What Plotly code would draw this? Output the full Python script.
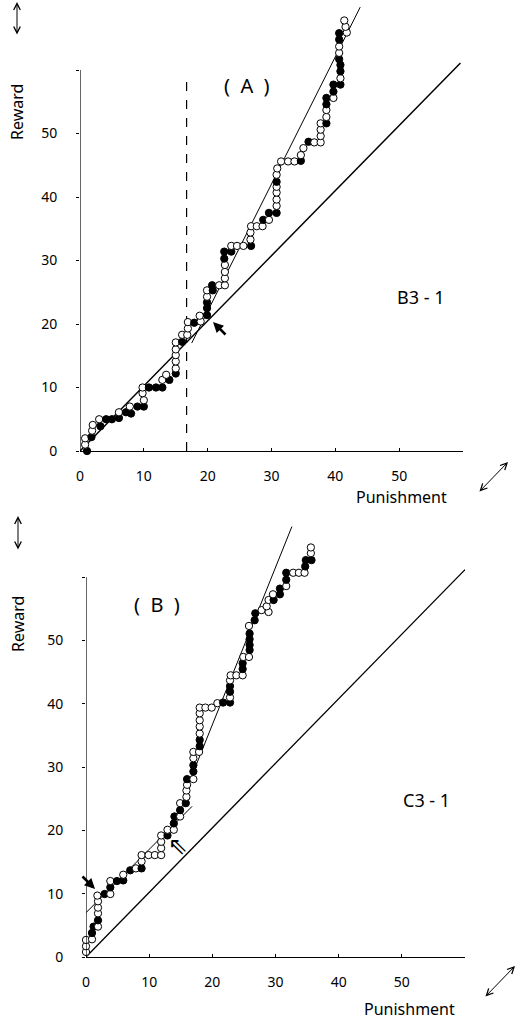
import plotly.graph_objects as go

# ---------------- data ----------------
# Panel A (B3-1): cumulative punishment / reward, filled=1 black circle, 0 open circle
a_punish = [1.1,0.8,0.8,1.8,1.9,2,3.2,3,4.1,5,6.1,6.1,7.2,8,7.8,9,10,10,9.8,9.8,10.8,11.9,12.9,12.9,14,13.5,15,15,15,15,15,15,16,16,16.8,16.9,16.9,17.9,18.9,18.75,19.9,19.9,19.9,19.9,19.9,20.8,20.7,21.8,22.7,22.7,22.7,22.7,22.6,22.6,23.7,23.7,24.6,25.6,26.8,26.7,26.7,26.8,27.7,28.6,28.7,29.6,29.6,30.8,30.8,30.8,30.8,30.8,30.8,30.8,30.9,31.5,32.6,33.6,34.6,34.6,35,35.8,36.7,37.7,37.7,37.7,37.7,38.6,38.6,38.6,38.6,38.6,39.7,39.7,39.7,40.8,40.8,40.8,40.8,40.6,40.6,40.6,40.6,40.6,41.8,41.6,41.4]
a_reward = [0,1,2,2.2,3.2,4.1,3.9,5,5,5,5.2,6.1,6.1,5.9,7,7,7,8,9.1,10,10,10,10,11.2,11.2,12,12.2,13,14.1,15.1,16,17.1,17.2,18.3,18.3,19.3,20.3,20.2,20.4,21.3,21.4,22.5,23.4,24.3,25.3,25.3,26.1,26.1,26.1,27.2,28.2,29.3,30.3,31.4,31.4,32.3,32.3,32.3,32.3,33.3,34.4,35.4,35.4,35.4,36.4,36.4,37.5,37.5,38.6,39.6,40.7,41.6,42.4,43.5,44.5,45.6,45.6,45.6,45.7,46.6,47.7,48.7,48.6,48.6,49.6,50.6,51.6,51.6,52.6,53.7,54.6,55.6,55.6,56.6,57.7,57.7,58.7,59.8,60.8,61.7,62.7,63.7,64.8,65.8,65.9,66.8,67.8]
a_filled = [1,0,0,1,0,0,1,0,1,1,1,0,1,1,0,1,1,0,0,0,1,1,1,0,1,0,1,0,0,0,0,0,1,0,0,0,0,1,0,0,1,1,1,0,0,1,1,0,0,0,0,0,1,1,1,0,0,0,1,0,0,0,0,0,1,0,1,1,0,0,0,0,1,0,0,0,0,0,1,0,0,1,0,0,0,0,0,1,0,0,1,1,0,1,1,1,0,1,1,1,0,0,1,1,0,0,0]

# Panel B (C3-1)
b_punish = [0,0,0,0.95,0.95,1.2,1.9,1.9,1.9,1.9,1.9,1.8,2.95,3.85,3.85,3.85,4.9,5.9,5.9,7,7.9,8.8,8.8,8.8,9.9,10.9,11.9,11.9,11.9,11.9,12.9,12.9,13.9,13.9,14,14.9,14.9,14.9,15.8,15.9,15.9,16,16,17,17,17,17,17,17.9,18,18,18,18,18,18,18,18.9,19.9,20.8,21.7,22.8,22.8,22.8,22.8,22.8,22.9,23.8,24.8,24.8,24.8,24.9,25.8,25.9,25.9,25.9,25.9,25.8,26.7,26.8,27.8,28.9,28.6,28.9,29.7,29.6,30.7,30.7,31.7,31.7,31.7,32.8,33.7,34.6,34.7,34.8,35.7,35.6,35.6]
b_reward = [0.8,1.7,2.7,2.8,3.8,4.8,4.8,5.8,6.9,7.8,8.8,9.7,9.95,9.95,11,12,12,12.1,13,13.7,14,14,15.1,16.1,16.1,16.1,16.1,17.2,18.2,19.2,19.2,20.1,20.1,21.1,22.2,22.2,23.2,24.3,24.3,25.3,26.3,27.2,28.1,28.1,29.3,30.3,31.4,32.4,32.4,33.3,34.3,35.3,36.4,37.4,38.5,39.4,39.4,39.4,40.1,40.2,40.2,41,41.9,42.8,43.7,44.5,44.5,44.5,45.5,46.4,47.4,47.4,48.5,49.3,50.2,51.1,52.3,53.2,54.3,54.8,54.5,55.4,56.4,56.4,57.3,57.3,58.2,58.6,59.6,60.7,60.7,60.7,60.7,61.7,62.7,62.7,63.8,64.7]
b_filled = [0,0,0,0,1,1,0,1,0,0,0,0,1,0,1,0,1,1,0,1,0,1,0,0,0,0,0,0,0,0,1,0,0,1,1,0,1,0,1,0,0,0,1,0,1,1,0,0,0,1,1,0,0,0,0,0,0,0,0,1,1,0,1,1,0,0,0,0,1,1,0,0,1,1,1,1,0,1,1,0,0,0,0,1,0,1,1,0,1,1,0,0,0,1,1,1,0,0]

# fitted lines
a_diag_x, a_diag_y = [0, 59.6], [0, 61.1]
a_steep_x, a_steep_y = [17.5, 43.9], [17.0, 69.9]
a_dash_x, a_dash_y = [16.7, 16.7], [0, 59.5]
b_diag_x, b_diag_y = [0, 60], [0, 61.2]
b_low_x, b_low_y = [0, 16.8], [7.0, 23.8]
b_steep_x, b_steep_y = [16.3, 32.6], [27.5, 68.0]

tick_vals = [0, 10, 20, 30, 40, 50, 60]
tick_text = ["0", "10", "20", "30", "40", "50", ""]
AXIS_MAX = 60
Y_VIEW_MAX = 70

# ---------------- figure ----------------
W, H = 527, 1021
L, R, T, B = 80, 62, 5, 64
FONT = "Noto Sans"

def pxx(px):
    return (px - L) / (W - L - R)

def pxy(py):
    return (H - B - py) / (H - T - B)

fig = go.Figure()

def add_line(x, y, xa, ya, width=1.0, dash="solid"):
    fig.add_trace(go.Scatter(x=x, y=y, mode="lines", xaxis=xa, yaxis=ya,
                             line=dict(color="black", width=width, dash=dash),
                             hoverinfo="skip", showlegend=False, cliponaxis=False))

add_line(a_diag_x, a_diag_y, "x", "y", 1.5)
add_line(a_steep_x, a_steep_y, "x", "y", 1.0)
add_line(a_dash_x, a_dash_y, "x", "y", 1.2, "dash")
add_line(b_diag_x, b_diag_y, "x2", "y2", 1.3)
add_line(b_low_x, b_low_y, "x2", "y2", 1.0)
add_line(b_steep_x, b_steep_y, "x2", "y2", 1.0)

def add_pts(x, y, f, xa, ya):
    fig.add_trace(go.Scatter(
        x=x, y=y, mode="markers", xaxis=xa, yaxis=ya, showlegend=False, cliponaxis=False,
        marker=dict(size=7.3, color=["black" if v else "white" for v in f],
                    line=dict(color="black", width=1)),
    ))

add_pts(a_punish, a_reward, a_filled, "x", "y")
add_pts(b_punish, b_reward, b_filled, "x2", "y2")

xax = dict(range=[0, AXIS_MAX], showline=True, linecolor="black", linewidth=1.2, showgrid=False,
           zeroline=False, ticks="inside", ticklen=3, tickcolor="black",
           tickvals=tick_vals, ticktext=tick_text, ticklabelstandoff=12,
           tickfont=dict(family=FONT, size=14, color="black"))
yax = dict(range=[0, Y_VIEW_MAX], showline=False, showgrid=False,
           zeroline=False, ticks="outside", ticklen=3, tickcolor="black",
           tickvals=tick_vals, ticktext=tick_text, ticklabelstandoff=16,
           tickfont=dict(family=FONT, size=14, color="black"))

fig.update_layout(
    width=W, height=H, margin=dict(l=L, r=R, t=T, b=B),
    paper_bgcolor="white", plot_bgcolor="white",
    xaxis=dict(domain=[0, 383 / 385], anchor="y", **xax),
    yaxis=dict(domain=[pxy(451), pxy(451 - Y_VIEW_MAX * 6.35)], anchor="x", **yax),
    xaxis2=dict(domain=[6 / 385, 1], anchor="y2", **xax),
    yaxis2=dict(domain=[0, pxy(957 - Y_VIEW_MAX * 6.33)], anchor="x2", **yax),
)

# y-axis lines only up to 60
for xr, yr in (("x", "y"), ("x2", "y2")):
    fig.add_shape(type="line", xref=xr, yref=yr, x0=0, x1=0, y0=0, y1=AXIS_MAX,
                  line=dict(color="black", width=1.2))

ann = []

def text(px, py, s, size, angle=0, family=FONT):
    ann.append(dict(x=pxx(px), y=pxy(py), xref="paper", yref="paper", text=s, showarrow=False,
                    font=dict(family=family, size=size, color="black"), textangle=angle,
                    xanchor="center", yanchor="middle"))

def arrow(hx, hy, tx, ty, head=2, width=1.0, size=1.0, both=False):
    ann.append(dict(x=pxx(hx), y=pxy(hy), xref="paper", yref="paper", text="",
                    showarrow=True, ax=tx - hx, ay=ty - hy, arrowhead=head,
                    arrowwidth=width, arrowsize=size, arrowcolor="black",
                    arrowside="end+start" if both else "end",
                    startarrowhead=head, startarrowsize=size))

# Panel A labels
text(247, 85, "(  A  )", 20)
text(420, 297, "B3 - 1", 18)
text(17, 112, "Reward", 16, -90)
text(401, 497, "Punishment", 16)
arrow(17, 2, 17, 36, head=5, width=1, size=1.3, both=True)
arrow(508, 462, 478, 493, head=5, width=1, size=1.3, both=True)
arrow(213, 322, 227, 336, head=2, width=2.6, size=0.8)

# Panel B labels
text(157, 604, "(  B  )", 20)
text(426, 800, "C3 - 1", 18)
text(18, 624, "Reward", 16, -90)
text(409, 1009, "Punishment", 16)
arrow(18, 516, 18, 551, head=5, width=1, size=1.3, both=True)
arrow(515, 966, 484, 998, head=5, width=1, size=1.3, both=True)
arrow(95, 889, 81, 875, head=2, width=2.6, size=0.8)
text(178, 846, "⇖", 24, family="DejaVu Sans")

fig.update_layout(annotations=ann)
fig.write_html("out.html")
